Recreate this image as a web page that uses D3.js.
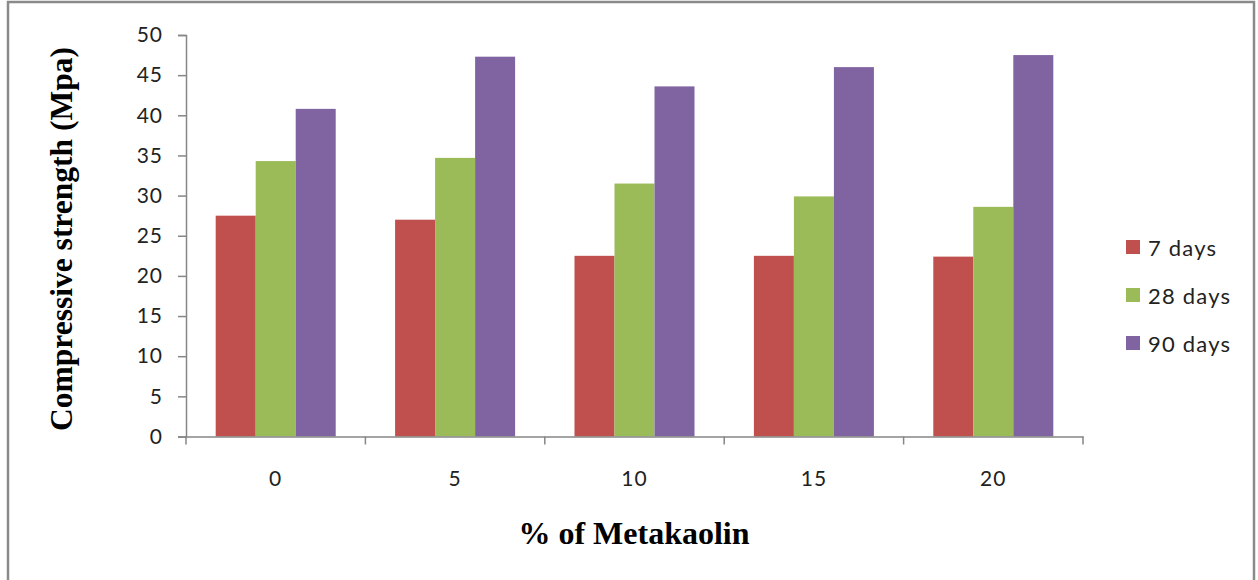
<!DOCTYPE html>
<html><head><meta charset="utf-8">
<script src="https://cdn.jsdelivr.net/npm/d3@7"></script>
<style>body{margin:0;background:#fff;}svg{display:block;}</style>
</head><body>
<script>
const categories = ["0", "5", "10", "15", "20"];
const seriesNames = ["7 days", "28 days", "90 days"];
const days7 = [27.5, 27.0, 22.5, 22.5, 22.4];
const days28 = [34.3, 34.7, 31.5, 29.9, 28.6];
const days90 = [40.8, 47.3, 43.6, 46.0, 47.5];
const yTicks = [0, 5, 10, 15, 20, 25, 30, 35, 40, 45, 50];
const colors = ["#C0504D", "#9BBB59", "#8064A2"];
const seriesValues = [days7, days28, days90];

(function () {
const W = 1258, H = 580;
const svg = d3.select("body").append("svg").attr("width", W).attr("height", H);

// outer border
svg.append("rect").attr("x", 8).attr("y", 2).attr("width", 1246).attr("height", 590)
  .attr("fill", "#fff").attr("stroke", "#8a8a8a").attr("stroke-width", 2.5);

const mLeft = 186, mRight = 1083, mTop = 35, mBottom = 436.5;
const x0 = d3.scaleBand().domain(categories).range([mLeft, mRight]).padding(0);
const bw = x0.bandwidth();
const groupFrac = 0.669;
const x1 = d3.scaleBand().domain(seriesNames)
  .range([bw * (1 - groupFrac) / 2, bw * (1 + groupFrac) / 2]).padding(0);
const y = d3.scaleLinear().domain([0, 50]).range([mBottom, mTop]);

const axisColor = "#868686";
const tickFont = "Lato, 'Open Sans', sans-serif";

// bars
seriesNames.forEach((s, si) => {
  svg.append("g").selectAll("rect").data(seriesValues[si]).join("rect")
    .attr("x", (d, i) => x0(categories[i]) + x1(s))
    .attr("y", d => y(d))
    .attr("width", x1.bandwidth())
    .attr("height", d => mBottom - y(d))
    .attr("fill", colors[si]);
});

// y axis
const yAxis = d3.axisLeft(y).tickValues(yTicks).tickSize(8).tickPadding(15);
const gy = svg.append("g").attr("transform", `translate(${mLeft},0)`).call(yAxis);
gy.select(".domain").attr("stroke", axisColor).attr("stroke-width", 1.5);
gy.selectAll(".tick line").attr("stroke", axisColor).attr("stroke-width", 1.5);
gy.selectAll(".tick text").attr("font-family", tickFont).attr("font-size", 21)
  .attr("letter-spacing", "1px").attr("fill", "#222");

// x axis: line and boundary ticks
const xAxis = d3.axisBottom(x0).tickSize(0).tickPadding(35);
const gx = svg.append("g").attr("transform", `translate(0,${mBottom})`).call(xAxis);
gx.select(".domain").attr("stroke", axisColor).attr("stroke-width", 1.5);
gx.selectAll(".tick text").attr("font-family", tickFont).attr("font-size", 21)
  .attr("letter-spacing", "1px").attr("fill", "#222");
const bounds = categories.map(c => x0(c)).concat([x0(categories[categories.length - 1]) + bw]);
gx.selectAll(".bound").data(bounds).join("line").attr("class", "bound")
  .attr("x1", d => d).attr("x2", d => d).attr("y1", 0).attr("y2", 8)
  .attr("stroke", axisColor).attr("stroke-width", 1.5);

// axis titles
svg.append("text").attr("x", 634).attr("y", 544).attr("text-anchor", "middle")
  .attr("font-family", "'Liberation Serif', 'Times New Roman', serif").attr("font-weight", "bold")
  .attr("font-size", 32).attr("fill", "#000").text("% of Metakaolin");
svg.append("text").attr("transform", "translate(72,239) rotate(-90)").attr("text-anchor", "middle")
  .attr("font-family", "'Liberation Serif', 'Times New Roman', serif").attr("font-weight", "bold")
  .attr("font-size", 31.5).attr("fill", "#000").text("Compressive strength (Mpa)");

// legend
const lg = svg.append("g");
seriesNames.forEach((s, i) => {
  const cy = 247 + i * 48;
  lg.append("rect").attr("x", 1126).attr("y", cy - 7).attr("width", 14).attr("height", 14).attr("fill", colors[i]);
  lg.append("text").attr("x", 1148).attr("y", cy + 9)
    .attr("font-family", tickFont).attr("font-size", 22).attr("letter-spacing", "1.2px")
    .attr("fill", "#222").text(s);
});
})();
</script>
</body></html>
